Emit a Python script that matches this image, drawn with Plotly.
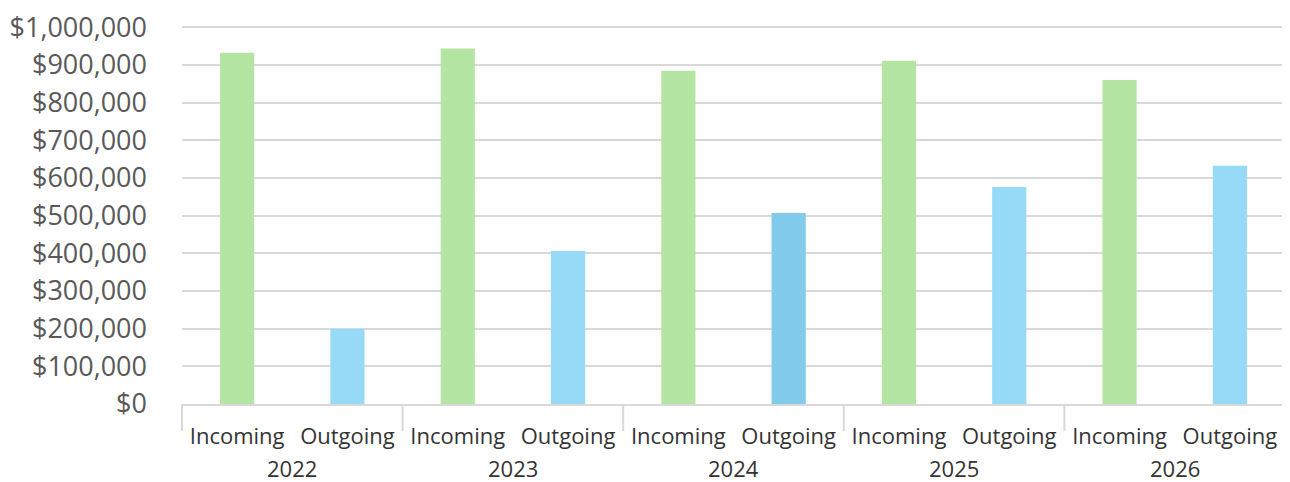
import plotly.graph_objects as go

years = ["2022", "2022", "2023", "2023", "2024", "2024", "2025", "2025", "2026", "2026"]
kinds = ["Incoming", "Outgoing"] * 5
values = [932000, 200000, 943000, 406000, 884000, 507000, 911000, 576000, 860000, 632000]
colors = ["#b5e5a2", "#97daf7", "#b5e5a2", "#97daf7", "#b5e5a2",
          "#82cbea", "#b5e5a2", "#97daf7", "#b5e5a2", "#97daf7"]
year_labels = ["2022", "2023", "2024", "2025", "2026"]

keys = [f"{y} {k}" for y, k in zip(years, kinds)]

fig = go.Figure(go.Bar(x=keys, y=values, marker=dict(color=colors, line=dict(width=0))))

n_years = len(year_labels)
shapes = []
annotations = []
for i in range(n_years + 1):
    shapes.append(dict(type="line", xref="paper", yref="paper", ysizemode="pixel", yanchor=0,
                       x0=i / n_years, x1=i / n_years, y0=0, y1=-27,
                       line=dict(color="#d9d9d9", width=2)))
for i, yl in enumerate(year_labels):
    annotations.append(dict(text=yl, xref="paper", yref="paper", x=(i + 0.5) / n_years, y=0,
                            yshift=-64, xanchor="center", yanchor="middle", showarrow=False,
                            font=dict(size=22, color="#333333", family="Open Sans")))

fig.update_layout(
    width=1290, height=482,
    margin=dict(l=174, r=13, t=18, b=86),
    plot_bgcolor="white", paper_bgcolor="white",
    bargap=0.69,
    showlegend=False,
    font=dict(family="Open Sans", color="#404040"),
    shapes=shapes,
    annotations=annotations,
)
fig.update_yaxes(
    range=[0, 1003000], dtick=100000, tickformat="$,.0f",
    showgrid=True, gridcolor="#d9d9d9", gridwidth=2,
    zeroline=False, showline=False, automargin=False,
    tickfont=dict(size=27, color="#595959"),
    ticklabelstandoff=34, ticklabeloverflow="allow",
)
fig.update_xaxes(
    type="category",
    tickvals=keys, ticktext=kinds,
    showline=True, linecolor="#d9d9d9", linewidth=2,
    showgrid=False, automargin=False,
    ticklabelstandoff=12,
    tickfont=dict(size=22, color="#333333"),
)
fig.write_html("out.html")
